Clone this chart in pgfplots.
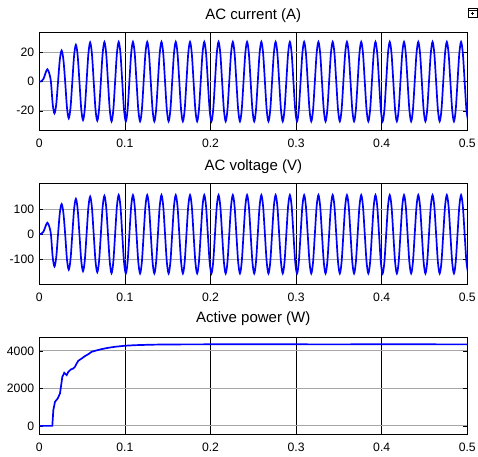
\documentclass[border=0pt]{standalone}
\usepackage{fontspec}
\setmainfont{Liberation Sans}
\usepackage{pgfplots}
\usepackage{pgfplotstable}
\pgfplotsset{compat=1.18}

\pgfplotstableread{
t i v
0 0 0
0.0025 0.3 2
0.0050 2.0 11
0.0073 6.0 32
0.0094 8.5 46
0.01148 6.0 32.5
0.01357 0 0
0.01565 -15.4 -90.5
0.01773 -21.8 -128
0.01982 -15.4 -90.5
0.0219 0 0
0.02398 15.1 84.9
0.02607 21.4 120
0.02815 15.1 84.9
0.03023 0 0
0.03232 -17.8 -99.7
0.0344 -25.2 -141
0.03648 -17.8 -99.7
0.03857 0 0
0.04065 17.9 99.7
0.04273 25.3 141
0.04482 17.9 99.7
0.0469 0 0
0.04898 -18.7 -103.9
0.05107 -26.4 -147
0.05315 -18.7 -103.9
0.05523 0 0
0.05732 19.0 106.1
0.0594 26.9 150
0.06148 19.0 106.1
0.06357 0 0
0.06565 -19.0 -106.8
0.06773 -26.8 -151
0.06982 -19.0 -106.8
0.0719 0 0
0.07398 19.2 108.2
0.07607 27.2 153
0.07815 19.2 108.2
0.08023 0 0
0.08232 -19.3 -109.6
0.0844 -27.3 -155
0.08648 -19.3 -109.6
0.08857 0 0
0.09065 19.3 110.3
0.09273 27.3 156
0.09482 19.3 110.3
0.0969 0 0
0.09898 -19.3 -110.3
0.10107 -27.3 -156
0.10315 -19.3 -110.3
0.10523 0 0
0.10732 19.3 110.3
0.1094 27.3 156
0.11148 19.3 110.3
0.11357 0 0
0.11565 -19.3 -110.3
0.11773 -27.3 -156
0.11982 -19.3 -110.3
0.1219 0 0
0.12398 19.3 110.3
0.12607 27.3 156
0.12815 19.3 110.3
0.13023 0 0
0.13232 -19.3 -110.3
0.1344 -27.3 -156
0.13648 -19.3 -110.3
0.13857 0 0
0.14065 19.3 110.3
0.14273 27.3 156
0.14482 19.3 110.3
0.1469 0 0
0.14898 -19.3 -110.3
0.15107 -27.3 -156
0.15315 -19.3 -110.3
0.15523 0 0
0.15732 19.3 110.3
0.1594 27.3 156
0.16148 19.3 110.3
0.16357 0 0
0.16565 -19.3 -110.3
0.16773 -27.3 -156
0.16982 -19.3 -110.3
0.1719 0 0
0.17398 19.3 110.3
0.17607 27.3 156
0.17815 19.3 110.3
0.18023 0 0
0.18232 -19.3 -110.3
0.1844 -27.3 -156
0.18648 -19.3 -110.3
0.18857 0 0
0.19065 19.3 110.3
0.19273 27.3 156
0.19482 19.3 110.3
0.1969 0 0
0.19898 -19.3 -110.3
0.20107 -27.3 -156
0.20315 -19.3 -110.3
0.20523 0 0
0.20732 19.3 110.3
0.2094 27.3 156
0.21148 19.3 110.3
0.21357 0 0
0.21565 -19.3 -110.3
0.21773 -27.3 -156
0.21982 -19.3 -110.3
0.2219 0 0
0.22398 19.3 110.3
0.22607 27.3 156
0.22815 19.3 110.3
0.23023 0 0
0.23232 -19.3 -110.3
0.2344 -27.3 -156
0.23648 -19.3 -110.3
0.23857 0 0
0.24065 19.3 110.3
0.24273 27.3 156
0.24482 19.3 110.3
0.2469 0 0
0.24898 -19.3 -110.3
0.25107 -27.3 -156
0.25315 -19.3 -110.3
0.25523 0 0
0.25732 19.3 110.3
0.2594 27.3 156
0.26148 19.3 110.3
0.26357 0 0
0.26565 -19.3 -110.3
0.26773 -27.3 -156
0.26982 -19.3 -110.3
0.2719 0 0
0.27398 19.3 110.3
0.27607 27.3 156
0.27815 19.3 110.3
0.28023 0 0
0.28232 -19.3 -110.3
0.2844 -27.3 -156
0.28648 -19.3 -110.3
0.28857 0 0
0.29065 19.3 110.3
0.29273 27.3 156
0.29482 19.3 110.3
0.2969 0 0
0.29898 -19.3 -110.3
0.30107 -27.3 -156
0.30315 -19.3 -110.3
0.30523 0 0
0.30732 19.3 110.3
0.3094 27.3 156
0.31148 19.3 110.3
0.31357 0 0
0.31565 -19.3 -110.3
0.31773 -27.3 -156
0.31982 -19.3 -110.3
0.3219 0 0
0.32398 19.3 110.3
0.32607 27.3 156
0.32815 19.3 110.3
0.33023 0 0
0.33232 -19.3 -110.3
0.3344 -27.3 -156
0.33648 -19.3 -110.3
0.33857 0 0
0.34065 19.3 110.3
0.34273 27.3 156
0.34482 19.3 110.3
0.3469 0 0
0.34898 -19.3 -110.3
0.35107 -27.3 -156
0.35315 -19.3 -110.3
0.35523 0 0
0.35732 19.3 110.3
0.3594 27.3 156
0.36148 19.3 110.3
0.36357 0 0
0.36565 -19.3 -110.3
0.36773 -27.3 -156
0.36982 -19.3 -110.3
0.3719 0 0
0.37398 19.3 110.3
0.37607 27.3 156
0.37815 19.3 110.3
0.38023 0 0
0.38232 -19.3 -110.3
0.3844 -27.3 -156
0.38648 -19.3 -110.3
0.38857 0 0
0.39065 19.3 110.3
0.39273 27.3 156
0.39482 19.3 110.3
0.3969 0 0
0.39898 -19.3 -110.3
0.40107 -27.3 -156
0.40315 -19.3 -110.3
0.40523 0 0
0.40732 19.3 110.3
0.4094 27.3 156
0.41148 19.3 110.3
0.41357 0 0
0.41565 -19.3 -110.3
0.41773 -27.3 -156
0.41982 -19.3 -110.3
0.4219 0 0
0.42398 19.3 110.3
0.42607 27.3 156
0.42815 19.3 110.3
0.43023 0 0
0.43232 -19.3 -110.3
0.4344 -27.3 -156
0.43648 -19.3 -110.3
0.43857 0 0
0.44065 19.3 110.3
0.44273 27.3 156
0.44482 19.3 110.3
0.4469 0 0
0.44898 -19.3 -110.3
0.45107 -27.3 -156
0.45315 -19.3 -110.3
0.45523 0 0
0.45732 19.3 110.3
0.4594 27.3 156
0.46148 19.3 110.3
0.46357 0 0
0.46565 -19.3 -110.3
0.46773 -27.3 -156
0.46982 -19.3 -110.3
0.4719 0 0
0.47398 19.3 110.3
0.47607 27.3 156
0.47815 19.3 110.3
0.48023 0 0
0.48232 -19.3 -110.3
0.4844 -27.3 -156
0.48648 -19.3 -110.3
0.48857 0 0
0.49065 19.3 110.3
0.49273 27.3 156
0.49482 19.3 110.3
0.4969 0 0
0.49898 -19.3 -110.3
0.50107 -27.3 -156
}\acdata

\pgfplotstableread{
t p
0 0
0.0152 0
0.0164 840
0.0183 1280
0.0215 1460
0.0242 1730
0.0269 2610
0.0292 2830
0.0320 2700
0.0339 2880
0.0370 3010
0.0398 3060
0.0417 3150
0.0437 3330
0.0456 3470
0.0495 3590
0.0534 3720
0.0573 3820
0.0612 3950
0.0651 4000
0.0729 4090
0.0806 4160
0.0884 4215
0.1001 4270
0.1118 4300
0.13 4325
0.15 4340
0.2 4345
0.25 4350
0.3 4345
0.35 4342
0.4 4350
0.45 4345
0.5 4342
}\pdata

\pgfplotsset{
  scopeax/.style={
    scale only axis, width=428bp,
    xmin=0, xmax=0.5,
    xtick={0,0.1,0.2,0.3,0.4,0.5},
    xticklabels={0,0.1,0.2,0.3,0.4,0.5},
    grid=major,
    major x grid style={black, line width=0.5bp},
    major y grid style={black!35, line width=0.8bp},
    tick align=inside, major tick length=4bp,
    axis line style={line width=0.8bp},
    every tick/.style={black, line width=0.5bp},
    tick label style={font=\fontsize{12.2bp}{14bp}\selectfont},
    xticklabel style={anchor=base, yshift=-17bp, inner sep=0pt},
    yticklabel style={anchor=east, inner sep=0pt, xshift=-5bp},
    title style={font=\fontsize{15bp}{18bp}\selectfont, at={(0.5,1)}, anchor=base, inner sep=0pt},
  },
  sig/.style={blue, line width=1.7bp, no markers},
}

\begin{document}
\begin{tikzpicture}
\path[use as bounding box] (0,0) rectangle (478bp,457bp);

\begin{axis}[scopeax, at={(39.3bp,326.3bp)}, anchor=south west, height=98.4bp,
  ymin=-33.7, ymax=33.9, ytick={-20,0,20}, yticklabels={-20,0,20},
  title={AC current (A)}, title style={yshift=7.3bp}]
  \addplot[sig, smooth] table[x=t, y=i] {\acdata};
\end{axis}

\begin{axis}[scopeax, at={(39.3bp,172.5bp)}, anchor=south west, height=101.5bp,
  ymin=-200, ymax=204, ytick={-100,0,100}, yticklabels={-100,0,100},
  title={AC voltage (V)}, title style={yshift=6.3bp}]
  \addplot[sig, smooth] table[x=t, y=v] {\acdata};
\end{axis}

\begin{axis}[scopeax, at={(39.3bp,22.7bp)}, anchor=south west, height=97bp,
  ymin=-450, ymax=4720, ytick={0,2000,4000}, yticklabels={0,2000,4000},
  title={Active power (W)}, title style={yshift=9bp}]
  \addplot[sig] table[x=t, y=p] {\pdata};
\end{axis}

\draw[line width=0.6bp] (468bp,440bp) rectangle (477bp,449bp);
\draw[line width=0.6bp] (468bp,446.6bp) -- (477bp,446.6bp);
\draw[line width=0.6bp] (472.5bp,441.5bp) -- (472.5bp,445.2bp);
\draw[line width=0.6bp] (470.8bp,443.5bp) -- (474.2bp,443.5bp);
\end{tikzpicture}
\end{document}
